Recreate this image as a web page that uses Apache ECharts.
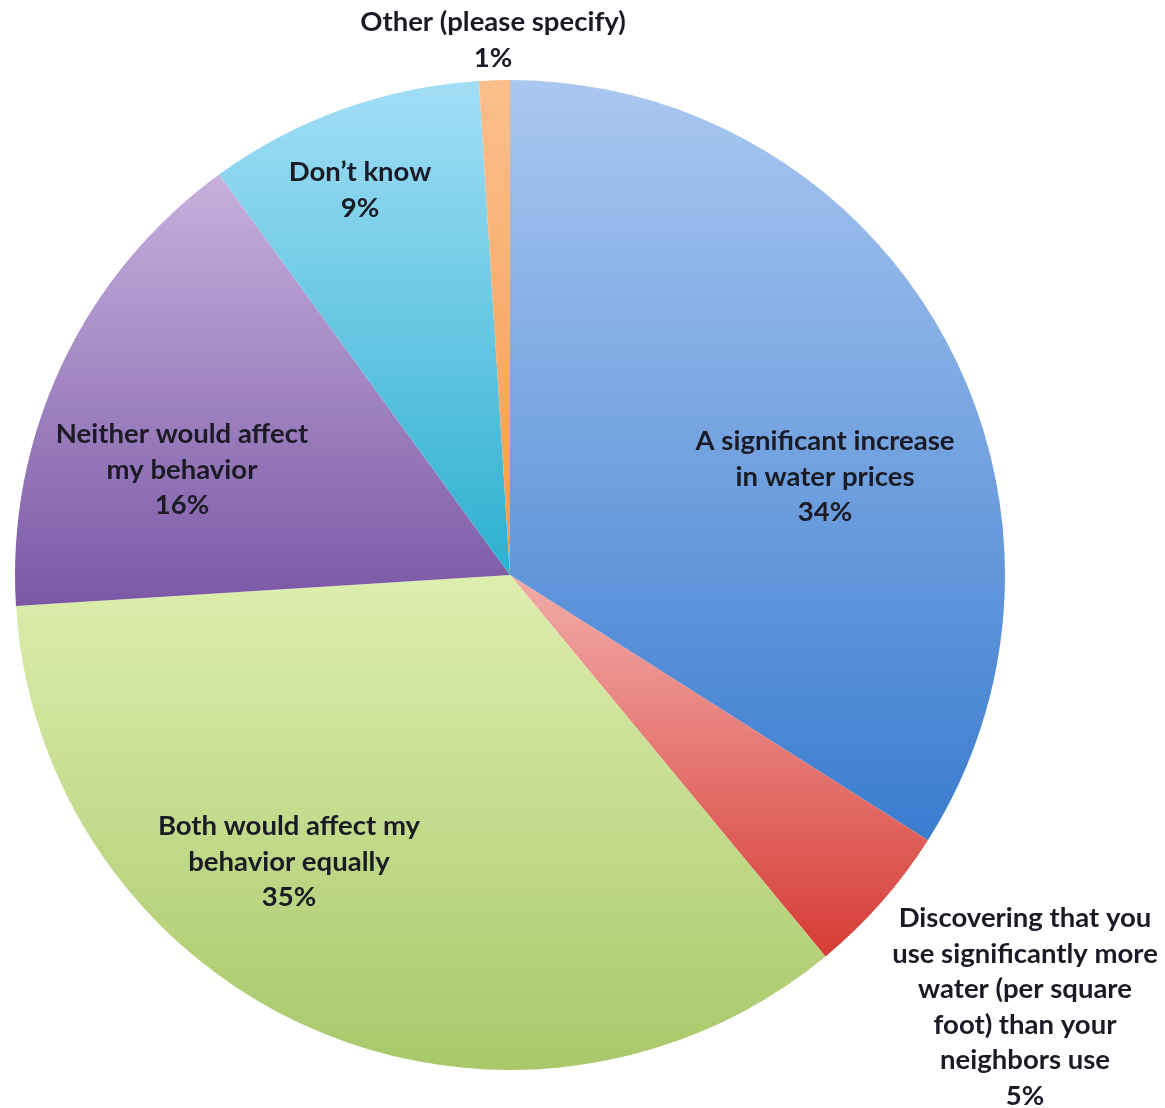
<!DOCTYPE html>
<html>
<head>
<meta charset="utf-8">
<script src="https://cdn.jsdelivr.net/npm/echarts@6/dist/echarts.min.js"></script>
<style>
  html, body { margin: 0; padding: 0; background: #fff; }
  #pie { width: 1165px; height: 1108px; }
</style>
</head>
<body>
<div id="pie"></div>
<script>
// slices, clockwise from 12 o'clock
var categories = [
  'A significant increase\nin water prices',
  'Discovering that you\nuse significantly more\nwater (per square\nfoot) than your\nneighbors use',
  'Both would affect my\nbehavior equally',
  'Neither would affect\nmy behavior',
  'Don\u2019t know',
  'Other (please specify)'
];
var percents = [34, 5, 35, 16, 9, 1];

// top / bottom colour of each slice gradient
var topColors = ['#aac7f0', '#f2aca9', '#deeeae', '#c7b0dd', '#a2def6', '#fbbf8c'];
var botColors = ['#3a7ccf', '#d63c36', '#a8c86a', '#7a58a5', '#2cb0cf', '#f59a4f'];

// label centres (px) - excel "best fit" places them by hand
var labelAt = [[825, 477], [1025, 1007], [289, 862], [182, 470], [360, 190], [493, 40]];

var myChart = echarts.init(document.getElementById('pie'));

var pieData = [];
for (var i = 0; i < categories.length; i++) {
  pieData.push({
    name: categories[i],
    value: percents[i],
    itemStyle: {
      color: new echarts.graphic.LinearGradient(0, 0, 0, 1, [
        { offset: 0, color: topColors[i] },
        { offset: 1, color: botColors[i] }
      ])
    }
  });
}

myChart.setOption({
  animation: false,
  series: [{
    type: 'pie',
    center: [510, 575],
    radius: [0, 495],
    startAngle: 90,
    clockwise: true,
    avoidLabelOverlap: false,
    itemStyle: { borderWidth: 0 },
    label: {
      show: true,
      position: 'inside',
      formatter: '{b}\n{c}%',
      fontFamily: 'Lato, "Open Sans", sans-serif',
      fontWeight: 'bold',
      fontSize: 27.5,
      lineHeight: 35.5,
      color: '#1b1b26',
      align: 'center'
    },
    labelLine: { show: false },
    labelLayout: function (p) {
      var pos = labelAt[p.dataIndex];
      return { x: pos[0], y: pos[1], align: 'center', verticalAlign: 'middle' };
    },
    emphasis: { disabled: true },
    data: pieData
  }]
});
</script>
</body>
</html>
